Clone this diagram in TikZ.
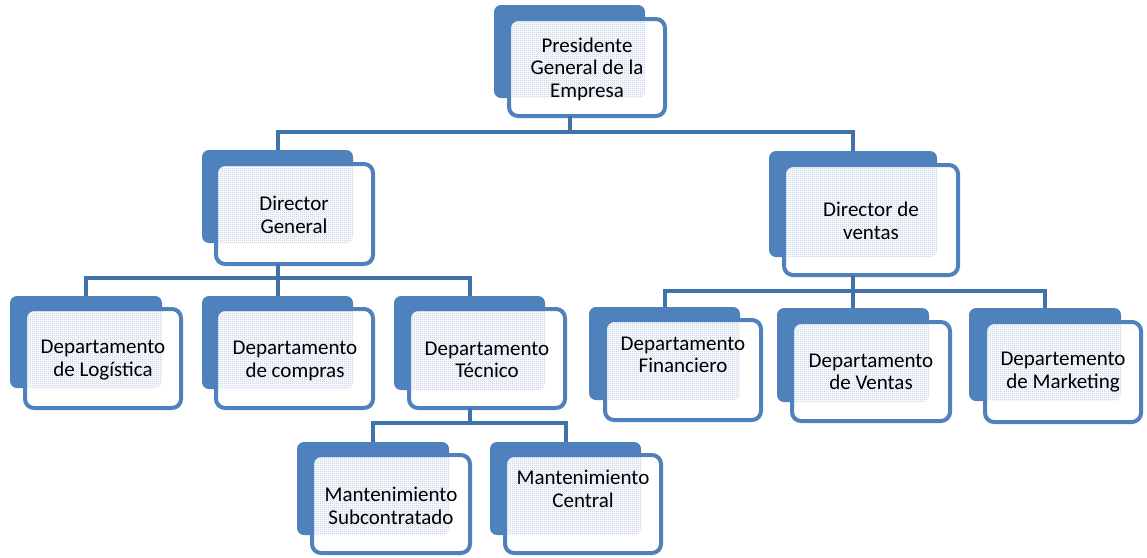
\documentclass[tikz,border=0pt]{standalone}
\usepackage{fontspec}
\setmainfont{Carlito}
\usetikzlibrary{patterns}
\definecolor{boxblue}{RGB}{79,129,189}
\definecolor{linkblue}{RGB}{66,114,172}
\definecolor{stip}{RGB}{176,194,224}
\pgfdeclarepatternformonly{finecheck}{\pgfqpoint{0pt}{0pt}}{\pgfqpoint{2pt}{2pt}}{\pgfqpoint{2pt}{2pt}}{%
  \pgfpathrectangle{\pgfqpoint{0pt}{0pt}}{\pgfqpoint{1pt}{1pt}}%
  \pgfpathrectangle{\pgfqpoint{1pt}{1pt}}{\pgfqpoint{1pt}{1pt}}%
  \pgfusepath{fill}}
\tikzset{
  backbox/.style={fill=boxblue, draw=none, rounded corners=7pt, inner sep=0pt, outer sep=0pt},
  frontbox/.style={fill=white, draw=boxblue, line width=4pt, rounded corners=9pt, inner sep=0pt, outer sep=0pt},
  txt/.style={align=center, font=\fontsize{21}{22.5}\selectfont, inner sep=0pt, text=black},
  conn/.style={draw=linkblue, line width=4pt},
  stipple/.style={pattern=finecheck, pattern color=stip}
}
% #1 name, #2-#5 back box x1,y1,x2,y2, #6-#9 front box outer x1,y1,x2,y2
\newcommand\orgbox[9]{%
  \node[backbox, minimum width=#4-#2, minimum height=#5-#3] (#1B) at ({(#2+#4)/2},{(#3+#5)/2}) {};
  \orgfront{#1}{#6}{#7}{#8}{#9}}
\newcommand\orgfront[5]{%
  \node[frontbox, minimum width=#4-#2-4, minimum height=#5-#3-4,
    path picture={\fill[stipple, rounded corners=7pt] (#1B.north west) rectangle (#1B.south east);}]
    (#1F) at ({(#2+#4)/2},{(#3+#5)/2}) {};}
\begin{document}
\begin{tikzpicture}[x=1pt,y=-1pt]
\useasboundingbox (0,0) rectangle (1147,557);
\fill[white] (0,0) rectangle (1147,557);
% bus levels
\coordinate (bus1) at (0,132);
\coordinate (bus2) at (0,278);
\coordinate (bus3) at (0,291);
\coordinate (bus4) at (0,423);
% boxes
\orgbox{pres}{494}{5}{645}{98}{507}{17}{667}{118}
\orgbox{dg}{202}{150}{353}{243}{214}{162}{375}{266}
\orgbox{dv}{769}{151}{937}{257}{782}{163}{960}{277}
\orgbox{log}{10}{296}{162}{388}{23}{307}{183}{410}
\orgbox{com}{202}{296}{353}{389}{214}{307}{375}{410}
\orgbox{tec}{394}{296}{545}{390}{407}{307}{567}{410}
\orgbox{fin}{589}{307}{740}{400}{603}{318}{763}{422}
\orgbox{ven}{777}{308}{929}{402}{790}{320}{952}{423}
\orgbox{mkt}{969}{308}{1121}{401}{983}{320}{1143}{424}
\orgbox{sub}{297}{442}{449}{535}{310}{453}{472}{555}
\orgbox{cen}{490}{442}{641}{535}{503}{453}{663}{555}
% texts
\node[txt] (presT) at (587,69) {Presidente\\General de la\\Empresa};
\node[txt] (dgT) at (294,215) {Director\\General};
\node[txt] (dvT) at (871,221) {Director de\\ventas};
\node[txt] (logT) at (103,360) {Departamento\\de Logística};
\node[txt] (comT) at (295,361) {Departamento\\de compras};
\node[txt] (tecT) at (487,360) {Departamento\\Técnico};
\node[txt] (finT) at (683,355) {Departamento\\Financiero};
\node[txt] (venT) at (871,372) {Departamento\\de Ventas};
\node[txt] (mktT) at (1063,372) {Departemento\\de Marketing};
\node[txt] (subT) at (391,506) {Mantenimiento\\Subcontratado};
\node[txt] (cenT) at (583,489) {Mantenimiento\\Central};
% connectors
\draw[conn] (presB.south |- presF.south) -- (presB |- bus1);
\draw[conn] (dgB.north) -- (dgB |- bus1) -- (dvB |- bus1) -- (dvB.north);
\draw[conn] (dgB.south |- dgF.south) -- (dgB |- bus2);
\draw[conn] (logB.north) -- (logB |- bus2) -- (tecB |- bus2) -- (tecB.north);
\draw[conn] (comB |- bus2) -- (comB.north);
\draw[conn] (dvB.south |- dvF.south) -- (dvB |- bus3);
\draw[conn] (finB.north) -- (finB |- bus3) -- (mktB |- bus3) -- (mktB.north);
\draw[conn] (venB |- bus3) -- (venB.north);
\draw[conn] (tecB.south |- tecF.south) -- (tecB |- bus4);
\draw[conn] (subB.north) -- (subB |- bus4) -- (cenB |- bus4) -- (cenB.north);
\end{tikzpicture}
\end{document}
